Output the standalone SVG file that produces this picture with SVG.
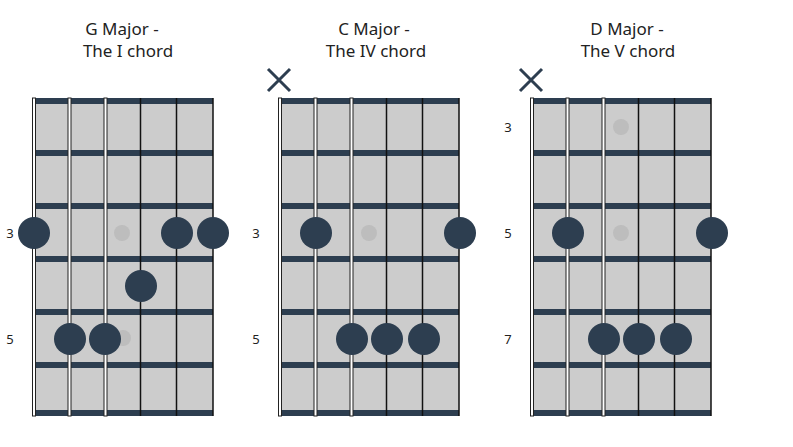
<svg xmlns="http://www.w3.org/2000/svg" xmlns:xlink="http://www.w3.org/1999/xlink" width="793" height="447" viewBox="0 0 793 447">
<style>
text{font-family:"Noto Sans","Liberation Sans",sans-serif;fill:#222}
.t{font-size:17px;text-anchor:middle}
.f{font-size:13px;text-anchor:middle}
.b{fill:#cccccc}
.fr{fill:#2d3e50}
.ws{fill:#fff;stroke:#222;stroke-width:1}
.bs{stroke:#111;stroke-width:1.5}
.d{fill:#2d3e50}
.l{fill:#bdbdbd}
.x{stroke:#2d3e50;stroke-width:3}
</style>
<defs>
<g id="board">
<rect class="b" x="36" y="98" width="177" height="317"/>
<rect class="fr" x="36" y="98" width="177" height="6"/>
<rect class="fr" x="36" y="150" width="177" height="6"/>
<rect class="fr" x="36" y="203" width="177" height="6"/>
<rect class="fr" x="36" y="256" width="177" height="6"/>
<rect class="fr" x="36" y="309" width="177" height="6"/>
<rect class="fr" x="36" y="362" width="177" height="6"/>
<rect class="fr" x="36" y="410" width="177" height="6"/>
<line class="bs" x1="140.5" y1="98" x2="140.5" y2="416"/>
<line class="bs" x1="176.5" y1="98" x2="176.5" y2="416"/>
<line class="bs" x1="213" y1="98" x2="213" y2="416"/>
<rect class="ws" x="32.5" y="98" width="3" height="318"/>
<rect class="ws" x="68" y="98" width="3" height="318"/>
<rect class="ws" x="104" y="98" width="3" height="318"/>
</g>
</defs>
<g id="chart-g">
<text class="t" x="122" y="35">G Major -</text>
<text class="t" x="128" y="57">The I chord</text>
<use xlink:href="#board"/>
<text class="f" x="10" y="238">3</text>
<text class="f" x="10" y="344">5</text>
<circle class="l" cx="122" cy="233" r="8"/>
<circle class="l" cx="123" cy="338" r="8"/>
<circle class="d" cx="34" cy="233" r="16"/>
<circle class="d" cx="177" cy="233" r="16"/>
<circle class="d" cx="213" cy="233" r="16"/>
<circle class="d" cx="141" cy="286" r="16"/>
<circle class="d" cx="70" cy="339" r="16"/>
<circle class="d" cx="105" cy="339" r="16"/>
</g>
<g id="chart-c">
<text class="t" x="374" y="35">C Major -</text>
<text class="t" x="376" y="57">The IV chord</text>
<path class="x" d="M268 69 L290 91 M290 69 L268 91"/>
<use xlink:href="#board" x="246"/>
<text class="f" x="256" y="238">3</text>
<text class="f" x="256" y="344">5</text>
<circle class="l" cx="369" cy="233" r="8"/>
<circle class="d" cx="316" cy="233" r="16"/>
<circle class="d" cx="460" cy="233" r="16"/>
<circle class="d" cx="352" cy="339" r="16"/>
<circle class="d" cx="387" cy="339" r="16"/>
<circle class="d" cx="424" cy="339" r="16"/>
</g>
<g id="chart-d">
<text class="t" x="627" y="35">D Major -</text>
<text class="t" x="628" y="57">The V chord</text>
<path class="x" d="M520 69 L542 91 M542 69 L520 91"/>
<use xlink:href="#board" x="498"/>
<text class="f" x="508" y="132">3</text>
<text class="f" x="508" y="238">5</text>
<text class="f" x="508" y="344">7</text>
<circle class="l" cx="621" cy="127" r="8"/>
<circle class="l" cx="621" cy="233" r="8"/>
<circle class="d" cx="568" cy="233" r="16"/>
<circle class="d" cx="712" cy="233" r="16"/>
<circle class="d" cx="604" cy="339" r="16"/>
<circle class="d" cx="639" cy="339" r="16"/>
<circle class="d" cx="676" cy="339" r="16"/>
</g>
<g id="connectors"/>
</svg>
